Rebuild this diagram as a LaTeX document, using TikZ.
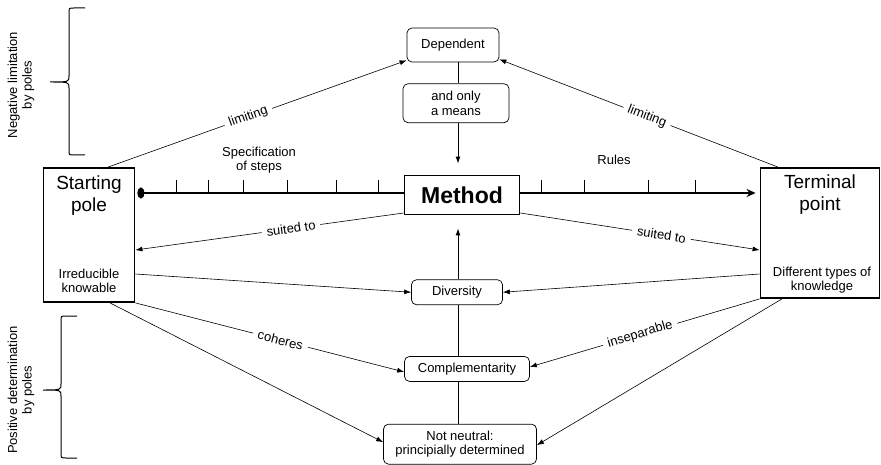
\documentclass[tikz,border=0pt]{standalone}
\usepackage{fontspec}
\setmainfont{Liberation Sans}
\usetikzlibrary{positioning, arrows.meta}

\tikzset{
  pole/.style={draw, line width=1.8pt, fill=white, inner sep=0pt},
  methodbox/.style={draw, line width=1.8pt, fill=white, inner sep=0pt,
    minimum width=115pt, minimum height=39pt, font=\fontsize{23}{27}\selectfont\bfseries},
  rbox/.style={draw, rounded corners=5pt, line width=0.7pt, fill=white, align=center,
    inner sep=0pt, font=\fontsize{13}{14.5}\selectfont},
  polename/.style={align=center, font=\fontsize{19}{22}\selectfont},
  txt/.style={align=center, font=\fontsize{13}{14.5}\selectfont},
  lbl/.style={fill=white, sloped, inner xsep=5pt, inner ysep=1pt, font=\fontsize{13}{15}\selectfont},
  conn/.style={-{Latex[length=7pt,width=5pt]}, line width=0.6pt},
  spine/.style={line width=1pt},
  timeline/.style={{Ellipse[length=7pt,width=11pt]}-{Stealth[length=9pt,width=8pt]}, line width=1.6pt},
  tick/.style={line width=1pt},
  bracepath/.style={line width=1pt},
}

\begin{document}
\begin{tikzpicture}[x=1pt, y=-1pt]
  \useasboundingbox (0,0) rectangle (881,465);

  % Poles
  \node[pole, minimum width=91pt, minimum height=134pt] (start) at (89,235) {};
  \node[pole, minimum width=119pt, minimum height=130pt] (term) at (820,233) {};
  \node[polename] (startname) at ([yshift=-28pt]start.north) {Starting\\pole};
  \node[txt]      (starttext) at ([yshift=22pt]start.south) {Irreducible\\knowable};
  \node[polename] (termname)  at ([yshift=-27pt]term.north) {Terminal\\point};
  \node[txt]      (termtext)  at ([xshift=2pt, yshift=19pt]term.south) {Different types of\\knowledge};

  % Timeline
  \coordinate (tlstart) at ([yshift=42pt]start.east);
  \coordinate (tlend)   at ([yshift=40pt]term.west);
  \draw[timeline, shorten <=2pt, shorten >=4pt] (tlstart) -- (tlend);
  \foreach \x in {176,208,243,287,336,378,541,584,648,695}
    \draw[tick] (\x,193) -- (\x,180);
  \node[txt] (steps) at (259,160) {Specification\\of steps};
  \node[txt] (rules) at (614,160) {Rules};

  % Nodes
  \node[methodbox] (method) at (462,195) {Method};
  \node[rbox, minimum width=92pt, minimum height=34pt] (dep) at (453,45) {Dependent};
  \node[rbox, minimum width=106pt, minimum height=39pt, below=21pt of dep, xshift=3pt] (means) {and only\\a means};
  \node[rbox, minimum width=91pt, minimum height=25pt, below=64pt of method, xshift=-5pt] (div) {Diversity};
  \node[rbox, minimum width=125pt, minimum height=25pt, below=51pt of div, xshift=10pt] (comp) {Complementarity};
  \node[rbox, minimum width=153pt, minimum height=40pt, below=42pt of comp, xshift=-7pt] (notneu) {Not neutral:\\principially determined};
  \coordinate (axis) at (458,0);

  % Side labels
  \node[txt, rotate=90] (neglbl) at (21,85)  {Negative limitation\\by poles};
  \node[txt, rotate=90] (poslbl) at (21,390) {Positive determination\\by poles};

  % Braces
  \draw[bracepath] (85,8) -- (74,8) .. controls (69,8) .. (69,13) -- (69,76)
    .. controls (69,82) .. (50,82) .. controls (69,82) .. (69,88) -- (69,150)
    .. controls (69,155) .. (74,155) -- (85,155);
  \draw[bracepath] (77,316) -- (66,316) .. controls (61,316) .. (61,321) -- (61,384)
    .. controls (61,390) .. (43,390) .. controls (61,390) .. (61,396) -- (61,453)
    .. controls (61,458) .. (66,458) -- (77,458);

  % Edges
  \draw[spine] (dep.south -| axis) -- (means.north -| axis);
  \draw[spine, conn, line width=1pt, shorten >=11pt] (means.south -| axis) -- (method.north -| axis);
  \draw[spine, conn, line width=1pt, shorten >=13pt] (div.north -| axis) -- (method.south -| axis);
  \draw[spine] (div.south -| axis) -- (comp.north -| axis);
  \draw[spine] (comp.south -| axis) -- (notneu.north -| axis);

  \draw[conn] ([xshift=19pt]start.north) -- node[lbl, pos=0.47] {limiting} ([yshift=2pt]dep.south west);
  \draw[conn] ([xshift=-42pt]term.north) -- node[lbl, pos=0.47] {limiting} ([yshift=3pt]dep.south east);
  \draw[conn] ([yshift=-18pt]method.west) -- node[lbl, pos=0.42] {suited to} ([yshift=-15pt]start.east);
  \draw[conn] ([yshift=-18pt]method.east) -- node[lbl, pos=0.59] {suited to} ([yshift=-17pt]term.west);
  \draw[conn] ([yshift=-39pt]start.east) -- (div.west);
  \draw[conn] ([yshift=-41pt]term.west) -- (div.east);
  \draw[conn] (start.south east) -- node[lbl, pos=0.54] {coheres} ([yshift=-3pt]comp.west);
  \draw[conn] (term.south west) -- node[lbl, pos=0.52] {inseparable} ([yshift=2pt]comp.east);
  \draw[conn] ([xshift=21pt]start.south) -- ([yshift=2pt]notneu.west);
  \draw[conn] ([xshift=-38pt]term.south) -- ([yshift=-1pt]notneu.east);
\end{tikzpicture}
\end{document}
